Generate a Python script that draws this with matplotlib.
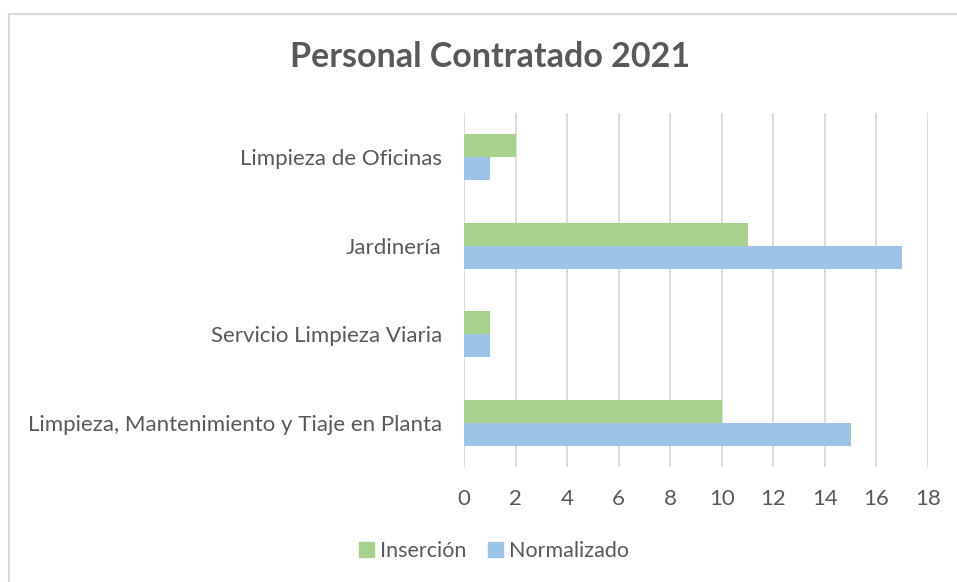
import matplotlib
matplotlib.use("Agg")
import matplotlib.pyplot as plt
from matplotlib.lines import Line2D
from matplotlib.patches import Patch
import numpy as np

categories = ["Limpieza, Mantenimiento y Tiaje en Planta", "Servicio Limpieza Viaria",
              "Jardinería", "Limpieza de Oficinas"]
insercion = [10, 1, 11, 2]
normalizado = [15, 1, 17, 1]
xticks = [0, 2, 4, 6, 8, 10, 12, 14, 16, 18]
title = "Personal Contratado 2021"

GREEN = "#A9D18E"
BLUE = "#9DC3E6"
TXT = "#595959"
GRID = "#D9D9D9"

plt.rcParams['font.family'] = ['Lato', 'DejaVu Sans']

fig = plt.figure(figsize=(9.57, 5.82), dpi=100)
ax = fig.add_axes([464/957, 1-467/582, (928-464)/957, (467-113)/582])

y = np.arange(len(categories))
h = 0.26
ax.barh(y + h/2, insercion, height=h, color=GREEN, zorder=3, label="Inserción")
ax.barh(y - h/2, normalizado, height=h, color=BLUE, zorder=3, label="Normalizado")

ax.set_xlim(0, 18)
ax.set_ylim(-0.5, len(categories) - 0.5)
ax.set_xticks(xticks)
ax.set_xticklabels([str(v) for v in xticks])
ax.set_yticks(y)
ax.set_yticklabels(categories)
ax.tick_params(axis='x', length=0, labelsize=16, colors=TXT, pad=16)
ax.tick_params(axis='y', length=0, labelsize=16, colors=TXT, pad=16)
ax.grid(axis='x', color=GRID, linewidth=1.3, zorder=0)
for s in ax.spines.values():
    s.set_visible(False)

fig.text(490/957, 1-57/582, title, ha='center', va='center', fontsize=24.5,
         fontweight='bold', color=TXT)

handles = [Patch(color=GREEN, label="Inserción"), Patch(color=BLUE, label="Normalizado")]
leg = fig.legend(handles=handles, loc='center', bbox_to_anchor=(494/957, 1-551/582),
                 ncol=2, frameon=False, fontsize=15.5, handlelength=0.7, handleheight=0.7,
                 handletextpad=0.3, columnspacing=1.0)
for t in leg.get_texts():
    t.set_color(TXT)

fig.add_artist(Line2D([9/957, 9/957], [0, 1-14/582], color=GRID, lw=1.5))
fig.add_artist(Line2D([9/957, 1], [1-14/582, 1-14/582], color=GRID, lw=1.5))

fig.savefig("out.png", dpi=100)
